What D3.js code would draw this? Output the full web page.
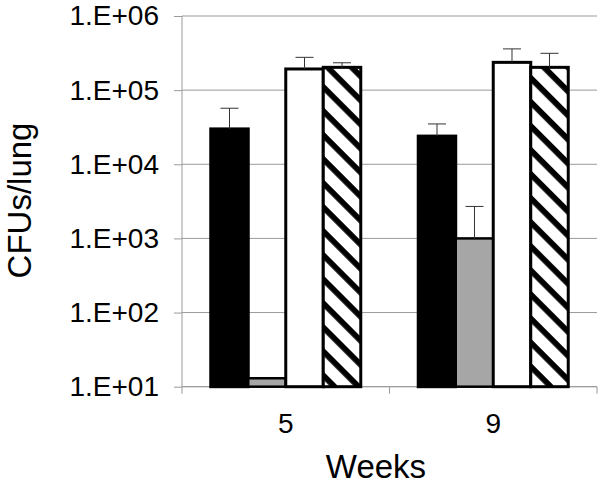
<!DOCTYPE html>
<html>
<head>
<meta charset="utf-8">
<script src="https://cdn.jsdelivr.net/npm/d3@7"></script>
<style>
  html, body { margin: 0; padding: 0; background: #fff; }
  svg { display: block; font-family: "Liberation Sans", Arial, sans-serif; }
</style>
</head>
<body>
<svg id="chart" width="600" height="485"></svg>
<script>
// ---- data ----
const weeks = ["5", "9"];
const seriesNames = ["black", "gray", "white", "hatched"];
const blackVals = [30000, 24000];
const grayVals = [13, 1000];
const whiteVals = [193000, 237000];
const hatchedVals = [203000, 203000];
const blackErr = [27000, 11000];
const grayErr = [0, 1700];
const whiteErr = [84000, 123000];
const hatchedErr = [31000, 111000];
const yTicks = [1e1, 1e2, 1e3, 1e4, 1e5, 1e6];
const yTickLabels = ["1.E+01", "1.E+02", "1.E+03", "1.E+04", "1.E+05", "1.E+06"];

const valuesBySeries = [blackVals, grayVals, whiteVals, hatchedVals];
const errBySeries = [blackErr, grayErr, whiteErr, hatchedErr];
const rows = [];
weeks.forEach((w, wi) => {
  seriesNames.forEach((s, si) => {
    rows.push({ week: w, series: s, value: valuesBySeries[si][wi], err: errBySeries[si][wi] });
  });
});

// ---- layout ----
const svg = d3.select("#chart");
const pLeft = 182, pRight = 597, pTop = 16, pBottom = 386.7;

const y = d3.scaleLog().domain([10, 1e6]).range([pBottom, pTop]);
const x0 = d3.scaleBand().domain(weeks).range([pLeft, pRight]).paddingInner(0.277).paddingOuter(0.1386);
const x1 = d3.scaleBand().domain(seriesNames).range([0, x0.bandwidth()]).padding(0);

const defs = svg.append("defs");
const pat = defs.append("pattern")
  .attr("id", "hatch")
  .attr("patternUnits", "userSpaceOnUse")
  .attr("width", 17).attr("height", 17)
  .attr("patternTransform", "rotate(45)");
pat.append("rect").attr("width", 17).attr("height", 17).attr("fill", "#fff");
pat.append("rect").attr("x", 0).attr("y", 0).attr("width", 17).attr("height", 5.8).attr("fill", "#000");

const gridColor = "#9a9a9a";

// gridlines
svg.append("g").selectAll("line").data(yTicks).join("line")
  .attr("x1", pLeft).attr("x2", pRight)
  .attr("y1", d => y(d)).attr("y2", d => y(d))
  .attr("stroke", gridColor).attr("stroke-width", 1);

// y axis
const yAxis = d3.axisLeft(y).tickValues(yTicks).tickFormat((d, i) => yTickLabels[i]).tickSize(8).tickPadding(15);
const gy = svg.append("g").attr("transform", `translate(${pLeft},0)`).call(yAxis);
gy.select(".domain").attr("stroke", gridColor).attr("d", `M0,${pTop}V${pBottom}`);
gy.selectAll(".tick line").attr("stroke", gridColor);
gy.selectAll(".tick text").attr("font-size", 28).attr("fill", "#000")
  .attr("font-family", "'Liberation Sans', Arial, sans-serif");

// x axis
const gx = svg.append("g").attr("transform", `translate(0,${pBottom})`);
gx.append("line").attr("x1", pLeft).attr("x2", pRight).attr("y1", 0).attr("y2", 0).attr("stroke", gridColor);
const xTickPos = [pLeft, (x0("5") + x0.bandwidth() + x0("9")) / 2, pRight];
gx.selectAll("line.t").data(xTickPos).join("line").attr("class", "t")
  .attr("x1", d => d).attr("x2", d => d).attr("y1", 0).attr("y2", 7).attr("stroke", gridColor);
gx.selectAll("text").data(weeks).join("text")
  .attr("x", d => x0(d) + x0.bandwidth() / 2)
  .attr("y", 46)
  .attr("text-anchor", "middle")
  .attr("font-size", 28)
  .text(d => d);

// bars
const fills = { black: "#000", gray: "#a6a6a6", white: "#fff", hatched: "url(#hatch)" };
svg.append("g").selectAll("rect").data(rows).join("rect")
  .attr("x", d => x0(d.week) + x1(d.series))
  .attr("width", x1.bandwidth())
  .attr("y", d => y(d.value))
  .attr("height", d => pBottom - y(d.value))
  .attr("fill", d => fills[d.series])
  .attr("stroke", "#000")
  .attr("stroke-width", d => d.series === "gray" ? 2.5 : 3);

// error bars
const eb = svg.append("g").selectAll("g").data(rows.filter(d => d.err > 0)).join("g");
eb.append("line")
  .attr("x1", d => x0(d.week) + x1(d.series) + x1.bandwidth() / 2)
  .attr("x2", d => x0(d.week) + x1(d.series) + x1.bandwidth() / 2)
  .attr("y1", d => y(d.value))
  .attr("y2", d => y(d.value + d.err))
  .attr("stroke", "#333").attr("stroke-width", 1);
eb.append("line")
  .attr("x1", d => x0(d.week) + x1(d.series) + x1.bandwidth() / 2 - 9)
  .attr("x2", d => x0(d.week) + x1(d.series) + x1.bandwidth() / 2 + 9)
  .attr("y1", d => y(d.value + d.err))
  .attr("y2", d => y(d.value + d.err))
  .attr("stroke", "#333").attr("stroke-width", 1);

// axis titles
svg.append("text")
  .attr("transform", `translate(30.5,200.5) rotate(-90)`)
  .attr("text-anchor", "middle")
  .attr("font-size", 33)
  .text("CFUs/lung");
svg.append("text")
  .attr("x", 376).attr("y", 477.5)
  .attr("text-anchor", "middle")
  .attr("font-size", 33)
  .text("Weeks");
</script>
</body>
</html>
